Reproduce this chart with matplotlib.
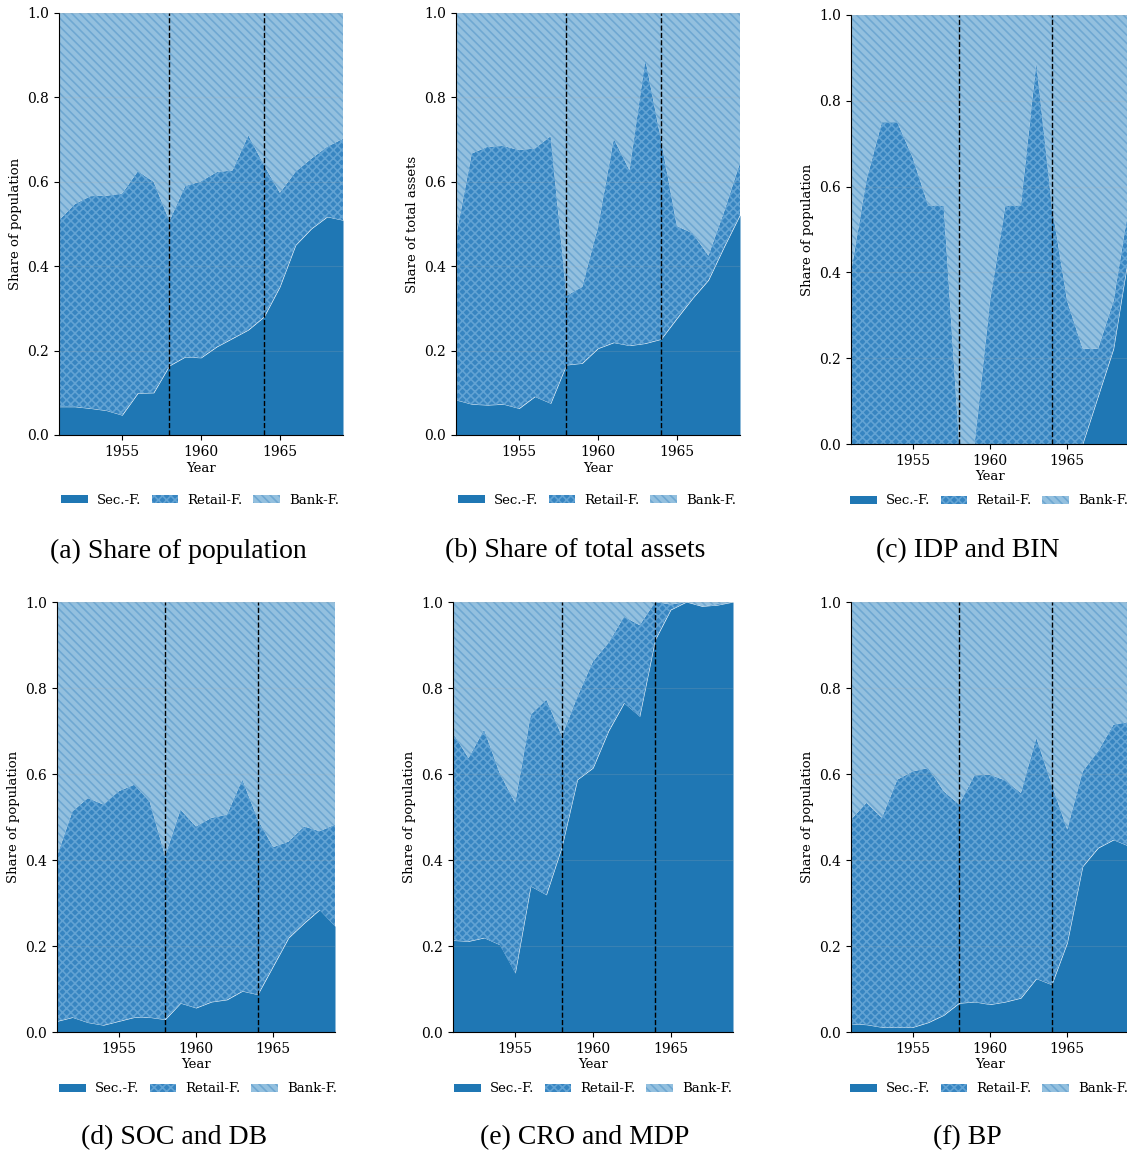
import numpy as np
import matplotlib
matplotlib.use("Agg")
import matplotlib.pyplot as plt
from matplotlib.patches import Patch

years = list(range(1951, 1970))
breaks = [1958, 1964]

# cumulative tops of the two lower layers for each panel
sec_a = [0.067, 0.067, 0.063, 0.058, 0.047, 0.099, 0.100, 0.164, 0.185, 0.183,
         0.209, 0.229, 0.249, 0.280, 0.351, 0.450, 0.489, 0.517, 0.509]
ret_a = [0.509, 0.547, 0.566, 0.567, 0.572, 0.625, 0.600, 0.507, 0.590, 0.601,
         0.623, 0.627, 0.710, 0.639, 0.574, 0.624, 0.655, 0.683, 0.702]

sec_b = [0.083, 0.073, 0.071, 0.073, 0.063, 0.091, 0.075, 0.166, 0.170, 0.205,
         0.219, 0.212, 0.217, 0.227, 0.276, 0.324, 0.367, 0.446, 0.521]
ret_b = [0.470, 0.667, 0.683, 0.685, 0.675, 0.679, 0.708, 0.330, 0.351, 0.493,
         0.702, 0.627, 0.890, 0.698, 0.495, 0.478, 0.425, 0.530, 0.645]

sec_c = [0.0, 0.0, 0.0, 0.0, 0.0, 0.0, 0.0, 0.0, 0.0, 0.0,
         0.0, 0.0, 0.0, 0.0, 0.0, 0.0, 0.111, 0.222, 0.444]
ret_c = [0.400, 0.615, 0.750, 0.750, 0.667, 0.556, 0.556, 0.0, 0.0, 0.333,
         0.556, 0.556, 0.889, 0.556, 0.333, 0.222, 0.222, 0.333, 0.556]

sec_d = [0.025, 0.034, 0.022, 0.016, 0.025, 0.034, 0.034, 0.029, 0.067, 0.056,
         0.070, 0.075, 0.095, 0.087, 0.153, 0.219, 0.253, 0.284, 0.246]
ret_d = [0.409, 0.513, 0.544, 0.529, 0.560, 0.575, 0.536, 0.409, 0.517, 0.478,
         0.498, 0.505, 0.587, 0.494, 0.430, 0.443, 0.478, 0.467, 0.482]

sec_e = [0.213, 0.211, 0.219, 0.203, 0.137, 0.339, 0.319, 0.430, 0.587, 0.614,
         0.700, 0.765, 0.734, 0.912, 0.982, 1.0, 0.990, 0.993, 1.0]
ret_e = [0.695, 0.637, 0.703, 0.602, 0.533, 0.738, 0.773, 0.688, 0.780, 0.862,
         0.905, 0.966, 0.946, 1.0, 0.994, 1.0, 0.990, 0.995, 1.0]

sec_f = [0.019, 0.017, 0.011, 0.011, 0.011, 0.022, 0.039, 0.067, 0.070, 0.064,
         0.070, 0.079, 0.124, 0.110, 0.207, 0.385, 0.428, 0.447, 0.432]
ret_f = [0.494, 0.533, 0.498, 0.587, 0.606, 0.614, 0.560, 0.529, 0.597, 0.598,
         0.585, 0.556, 0.684, 0.575, 0.471, 0.606, 0.653, 0.715, 0.721]

panels = [
    (sec_a, ret_a, "Share of population", "(a) Share of population"),
    (sec_b, ret_b, "Share of total assets", "(b) Share of total assets"),
    (sec_c, ret_c, "Share of population", "(c) IDP and BIN"),
    (sec_d, ret_d, "Share of population", "(d) SOC and DB"),
    (sec_e, ret_e, "Share of population", "(e) CRO and MDP"),
    (sec_f, ret_f, "Share of population", "(f) BP"),
]

# axes boxes in pixels: left, top, right, bottom
boxes = [(59, 13, 343, 435), (456, 13, 740, 435), (851, 15, 1129, 444),
         (57, 602, 335, 1032), (453, 602, 733, 1032), (851, 602, 1129, 1032)]
legend_y = [500, 500, 501, 1089, 1089, 1089]
legend_x = [200, 597, 989, 198, 593, 989]
caption_x = [178, 575, 968, 174, 585, 967]
caption_y = [551, 551, 551, 1138, 1138, 1138]

W, H = 1127, 1155
plt.rcParams["font.family"] = "DejaVu Serif"
plt.rcParams["hatch.linewidth"] = 1.2
fig = plt.figure(figsize=(W / 100, H / 100), dpi=100)

sec_col = "#1f77b4"
ret_face, ret_hatch = "#3785c1", "#62a3d4"
bank_face, bank_hatch = "#93c0df", "#6fa8d2"
ret_pat = "xxxx"
bank_pat = "\\" * 4

for i, (sec, ret, ylab, cap) in enumerate(panels):
    l, t, r, b = boxes[i]
    ax = fig.add_axes([l / W, 1 - b / H, (r - l) / W, (b - t) / H])
    sec = np.array(sec)
    ret = np.array(ret)
    # stacked layers: sec on the bottom, retail in the middle, bank on top
    ax.fill_between(years, 0, sec, facecolor=sec_col, edgecolor=sec_col, lw=0)
    ax.fill_between(years, sec, ret, facecolor=ret_face, edgecolor=ret_hatch,
                    hatch=ret_pat, lw=0)
    ax.fill_between(years, ret, 1, facecolor=bank_face, edgecolor=bank_hatch,
                    hatch=bank_pat, lw=0)
    for yb in breaks:
        ax.axvline(yb, color="black", ls="--", lw=1.0, zorder=3)
    ax.grid(axis="y", color="#b0b0b0", alpha=0.18, lw=0.8, zorder=2)
    ax.set_axisbelow(False)
    ax.set_xlim(1951, 1969)
    ax.set_ylim(0, 1)
    ax.set_xticks([1955, 1960, 1965])
    ax.set_yticks(np.arange(0, 1.01, 0.2))
    ax.tick_params(labelsize=10)
    ax.spines["top"].set_visible(False)
    ax.spines["right"].set_visible(False)
    ax.set_xlabel("Year", fontsize=9.5, labelpad=2)
    ax.set_ylabel(ylab, fontsize=9.5)

    handles = [Patch(facecolor=sec_col, edgecolor=sec_col, lw=0),
               Patch(facecolor=ret_face, edgecolor=ret_hatch, hatch=ret_pat, lw=0),
               Patch(facecolor=bank_face, edgecolor=bank_hatch, hatch=bank_pat, lw=0)]
    fig.legend(handles, ["Sec.-F.", "Retail-F.", "Bank-F."], loc="center",
               bbox_to_anchor=(legend_x[i] / W, 1 - legend_y[i] / H), ncol=3,
               frameon=False, fontsize=9.5, handlelength=2.0, handleheight=0.6,
               handletextpad=0.7, columnspacing=0.8)

    fig.text(caption_x[i] / W, 1 - caption_y[i] / H, cap, ha="center", va="center",
             fontsize=20, family="Liberation Serif")

fig.savefig("out.png", dpi=100)
